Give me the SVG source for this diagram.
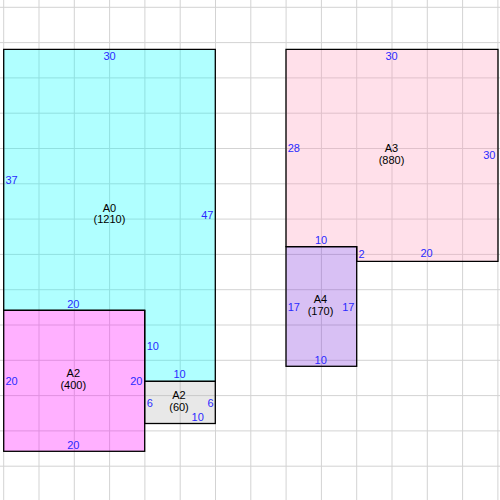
<svg xmlns="http://www.w3.org/2000/svg" width="500" height="500" viewBox="0 0 500 500">
<style>
.grid line{stroke:#d3d3d3;stroke-width:1}
.sh{stroke:#000;stroke-width:1.3;stroke-linejoin:miter}
.dim{font-family:"Liberation Sans",Arial,sans-serif;font-size:11px;fill:#2a2aff}
.nm{font-family:"Liberation Sans",Arial,sans-serif;font-size:11px;fill:#000;text-anchor:middle}
.m{text-anchor:middle}.e{text-anchor:end}.s{text-anchor:start}
</style>
<rect width="500" height="500" fill="#fff"/>
<g class="grid" id="grid">
<line x1="3.7" y1="0" x2="3.7" y2="500"/><line x1="39" y1="0" x2="39" y2="500"/><line x1="74.3" y1="0" x2="74.3" y2="500"/><line x1="109.6" y1="0" x2="109.6" y2="500"/><line x1="144.9" y1="0" x2="144.9" y2="500"/><line x1="180.2" y1="0" x2="180.2" y2="500"/><line x1="215.5" y1="0" x2="215.5" y2="500"/><line x1="250.8" y1="0" x2="250.8" y2="500"/><line x1="286.1" y1="0" x2="286.1" y2="500"/><line x1="321.4" y1="0" x2="321.4" y2="500"/><line x1="356.7" y1="0" x2="356.7" y2="500"/><line x1="392" y1="0" x2="392" y2="500"/><line x1="427.3" y1="0" x2="427.3" y2="500"/><line x1="462.6" y1="0" x2="462.6" y2="500"/><line x1="497.9" y1="0" x2="497.9" y2="500"/>
<line x1="0" y1="7.3" x2="500" y2="7.3"/><line x1="0" y1="42.6" x2="500" y2="42.6"/><line x1="0" y1="77.9" x2="500" y2="77.9"/><line x1="0" y1="113.2" x2="500" y2="113.2"/><line x1="0" y1="148.5" x2="500" y2="148.5"/><line x1="0" y1="183.8" x2="500" y2="183.8"/><line x1="0" y1="219.1" x2="500" y2="219.1"/><line x1="0" y1="254.4" x2="500" y2="254.4"/><line x1="0" y1="289.7" x2="500" y2="289.7"/><line x1="0" y1="325" x2="500" y2="325"/><line x1="0" y1="360.3" x2="500" y2="360.3"/><line x1="0" y1="395.6" x2="500" y2="395.6"/><line x1="0" y1="430.9" x2="500" y2="430.9"/><line x1="0" y1="466.2" x2="500" y2="466.2"/>
</g>
<g id="A0">
<path class="sh" d="M3.7,49.3 H215.3 V381.3 H144.7 V310.3 H3.7 Z" fill="rgba(0,255,255,0.31)"/>
<text class="dim m" x="109.5" y="59.5">30</text>
<text class="dim s" x="5.5" y="184">37</text>
<text class="dim e" x="213.5" y="219">47</text>
<text class="dim m" x="73.3" y="307.5">20</text>
<text class="dim s" x="146.7" y="350">10</text>
<text class="dim m" x="179.5" y="378">10</text>
<text class="nm" x="109.5" y="212">A0</text>
<text class="nm" x="109.5" y="223.2">(1210)</text>
</g>
<g id="A2a">
<rect class="sh" x="3.7" y="310.3" width="141" height="141" fill="rgba(255,0,255,0.31)"/>
<text class="dim s" x="5.5" y="385">20</text>
<text class="dim e" x="142.5" y="385">20</text>
<text class="dim m" x="73.3" y="448.7">20</text>
<text class="nm" x="73.3" y="377">A2</text>
<text class="nm" x="73.3" y="388.5">(400)</text>
</g>
<g id="A2b">
<rect class="sh" x="144.7" y="381.3" width="70.6" height="42.2" fill="rgba(178,178,178,0.3)"/>
<text class="dim s" x="146.7" y="406.5">6</text>
<text class="dim e" x="213.5" y="406.5">6</text>
<text class="dim m" x="197.7" y="420.7">10</text>
<text class="nm" x="179" y="399">A2</text>
<text class="nm" x="179" y="410.5">(60)</text>
</g>
<g id="A3">
<path class="sh" d="M286,49.3 H498 V261.3 H356.7 V246.7 H286 Z" fill="rgba(255,152,185,0.3)"/>
<text class="dim m" x="391.5" y="59.5">30</text>
<text class="dim s" x="287.7" y="152">28</text>
<text class="dim e" x="495.5" y="159">30</text>
<text class="dim m" x="321" y="244">10</text>
<text class="dim s" x="358.5" y="258">2</text>
<text class="dim m" x="426.5" y="257.3">20</text>
<text class="nm" x="391.5" y="152">A3</text>
<text class="nm" x="391.5" y="163.5">(880)</text>
</g>
<g id="A4">
<rect class="sh" x="286" y="246.7" width="70.7" height="119.6" fill="rgba(125,45,218,0.3)"/>
<text class="dim s" x="287.7" y="311">17</text>
<text class="dim e" x="354.5" y="311">17</text>
<text class="dim m" x="320.7" y="363.5">10</text>
<text class="nm" x="320.5" y="303.3">A4</text>
<text class="nm" x="320.5" y="314.5">(170)</text>
</g>
</svg>
